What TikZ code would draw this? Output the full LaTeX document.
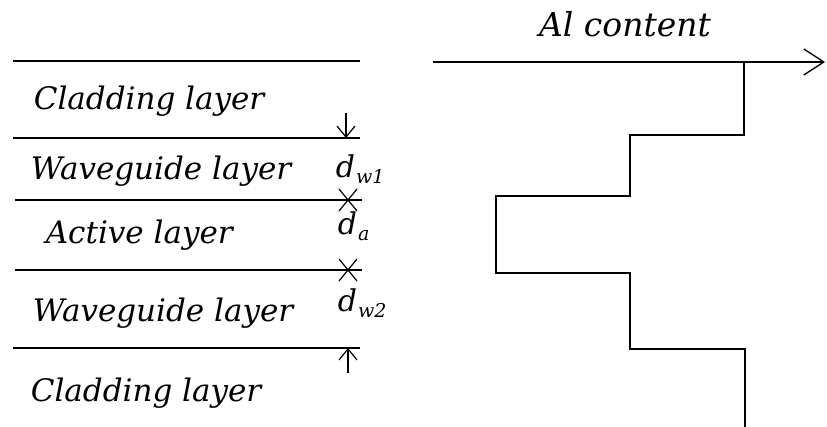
\documentclass[tikz,border=0pt]{standalone}
\usepackage{fontspec}
\setmainfont{DejaVu Serif}
\usetikzlibrary{arrows.meta}
\newcommand{\layerfont}{\fontsize{31}{34}\selectfont\itshape}
\newcommand{\dlab}[1]{{\fontsize{30}{32}\selectfont\itshape d\kern1pt\raisebox{-6pt}{\fontsize{19}{20}\selectfont #1}}}

\begin{document}
\begin{tikzpicture}[x=1pt,y=-1pt,line width=1.7pt,
  lbl/.style={anchor=base west,inner sep=0pt,font=\layerfont},
  dlbl/.style={anchor=base west,inner sep=0pt},
  dim/.style={-{Straight Barb[length=11pt,width=18pt,line width=1.2pt]},line width=1.2pt}]
\useasboundingbox (0,0) rectangle (827,427);
% layer boundaries
\coordinate (b1w) at (13,61);  \coordinate (b1e) at (360,61);
\coordinate (b2w) at (13,138); \coordinate (b2e) at (360,138);
\coordinate (b3w) at (15,200); \coordinate (b3e) at (362,200);
\coordinate (b4w) at (15,270); \coordinate (b4e) at (362,270);
\coordinate (b5w) at (13,348); \coordinate (b5e) at (360,348);
\foreach \i in {1,...,5} \draw (b\i w) -- (b\i e);
% layer names
\node[lbl] (clad1) at (33,110) {Cladding layer};
\node[lbl] (wg1) at (30,180) {Waveguide layer};
\node[lbl] (act) at (45,244) {Active layer};
\node[lbl] (wg2) at (32,322) {Waveguide layer};
\node[lbl] (clad2) at (30,401) {Cladding layer};
% thicknesses
\node[dlbl] (dw1) at (335,178) {\dlab{w1}};
\node[dlbl] (da) at (337,235) {\dlab{a}};
\node[dlbl] (dw2) at (337,312) {\dlab{w2}};
\coordinate (t1) at (346,113); \coordinate (p1) at (346,138);
\coordinate (p2) at (348,200); \coordinate (p4) at (348,270);
\coordinate (t6) at (348,373); \coordinate (p6) at (348,348);
\draw[dim] (t1) -- (p1);
\draw[dim] (t6) -- (p6);
% arrow heads meeting on the active layer edges
\foreach \p in {p2,p4} {
  \draw[line width=1.2pt] (\p) ++(-9,-11) -- (\p) -- ++(9,-11);
  \draw[line width=1.2pt] (\p) ++(-9,11) -- (\p) -- ++(9,11);
}
% Al content profile
\coordinate (ax0) at (433,62); \coordinate (ax1) at (825,62);
\draw[-{Straight Barb[length=20pt,width=26pt,line width=1.3pt]}] (ax0) -- (ax1);
\node[anchor=base,inner sep=0pt,font=\fontsize{33}{36}\selectfont\itshape] (al) at (625,37) {Al content};
\draw (744,62) -- (744,135) -- (630,135) -- (630,196) -- (496,196) -- (496,273)
  -- (630,273) -- (630,349) -- (745,349) -- (745,427);
\end{tikzpicture}
\end{document}
